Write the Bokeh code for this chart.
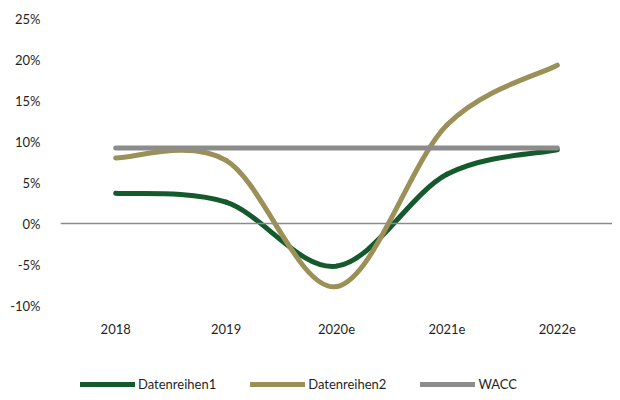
from bokeh.plotting import figure
from bokeh.layouts import column
from bokeh.models import (Range1d, FixedTicker, NumeralTickFormatter, Span,
                          Legend, LegendItem, ColumnDataSource)
from bokeh.embed import file_html
from bokeh.resources import INLINE

# ---- data ----
years = ["2018", "2019", "2020e", "2021e", "2022e"]
datenreihen1 = [0.037, 0.026, -0.052, 0.060, 0.090]
datenreihen2 = [0.080, 0.077, -0.077, 0.120, 0.193]
wacc = [0.092, 0.092, 0.092, 0.092, 0.092]
y_ticks = [-0.10, -0.05, 0.0, 0.05, 0.10, 0.15, 0.20, 0.25]

GREEN = "#155A2C"
KHAKI = "#9B9158"
GRAY = "#8C8C8C"
TEXT = "#1F1F1F"
FONT = "Lato"

xs = list(range(len(years)))


def smooth_segments(ys):
    """Bezier control points (Catmull-Rom style, like spreadsheet smoothing)."""
    n = len(ys)
    d = dict(x0=[], y0=[], x1=[], y1=[], cx0=[], cy0=[], cx1=[], cy1=[])
    for i in range(n - 1):
        a = i - 1 if i > 0 else i
        b = i + 2 if i + 2 < n else i + 1
        d["x0"].append(xs[i]); d["y0"].append(ys[i])
        d["x1"].append(xs[i + 1]); d["y1"].append(ys[i + 1])
        d["cx0"].append(xs[i] + (xs[i + 1] - xs[a]) / 6)
        d["cy0"].append(ys[i] + (ys[i + 1] - ys[a]) / 6)
        d["cx1"].append(xs[i + 1] - (xs[b] - xs[i]) / 6)
        d["cy1"].append(ys[i + 1] - (ys[b] - ys[i]) / 6)
    return ColumnDataSource(d)


W = 612
p = figure(width=W, height=340, output_backend="svg", toolbar_location=None,
           x_range=Range1d(-0.5, 4.5), y_range=Range1d(-0.10, 0.25),
           min_border_left=60, min_border_right=0, min_border_top=18,
           min_border_bottom=35)
p.outline_line_color = None
p.xgrid.visible = False
p.ygrid.visible = False
p.background_fill_color = "white"
p.border_fill_color = "white"

# zero line
p.add_layout(Span(location=0, dimension="width", line_color=GRAY, line_width=1.3))

lw = 5
for ys, col in [(datenreihen1, GREEN), (datenreihen2, KHAKI)]:
    p.bezier(x0="x0", y0="y0", x1="x1", y1="y1", cx0="cx0", cy0="cy0",
             cx1="cx1", cy1="cy1", source=smooth_segments(ys),
             line_color=col, line_width=lw, line_cap="round")
p.line(xs, wacc, line_color=GRAY, line_width=lw, line_cap="round")

# axes
p.xaxis.ticker = FixedTicker(ticks=xs)
p.xaxis.major_label_overrides = {i: y for i, y in enumerate(years)}
p.yaxis.ticker = FixedTicker(ticks=y_ticks)
p.yaxis.formatter = NumeralTickFormatter(format="0%")
for ax in (p.xaxis, p.yaxis):
    ax.axis_line_color = None
    ax.major_tick_line_color = None
    ax.minor_tick_line_color = None
    ax.major_label_text_font = FONT
    ax.major_label_text_font_size = "13px"
    ax.major_label_text_color = TEXT
p.xaxis.major_label_standoff = 12
p.yaxis.major_label_standoff = 14

# legend in its own strip below the chart
lg = figure(width=W, height=52, output_backend="svg", toolbar_location=None,
            x_range=Range1d(0, 1), y_range=Range1d(0, 1),
            min_border_left=0, min_border_right=0, min_border_top=0,
            min_border_bottom=0)
lg.axis.visible = False
lg.grid.visible = False
lg.outline_line_color = None
lg.background_fill_color = "white"
lg.border_fill_color = "white"
# legend-only renderers (kept outside the visible range of the strip)
off = [5, 6]
r1 = lg.line(off, off, line_color=GREEN, line_width=lw, line_cap="round")
r2 = lg.line(off, off, line_color=KHAKI, line_width=lw, line_cap="round")
r3 = lg.line(off, off, line_color=GRAY, line_width=lw, line_cap="round")
legend = Legend(items=[LegendItem(label="Datenreihen1", renderers=[r1]),
                       LegendItem(label="Datenreihen2", renderers=[r2]),
                       LegendItem(label="WACC", renderers=[r3])],
                orientation="horizontal", location=(20, 0),
                glyph_width=55, glyph_height=14, label_standoff=3, spacing=34,
                padding=0, margin=0, border_line_color=None,
                background_fill_alpha=0, label_text_font=FONT,
                label_text_font_size="13px", label_text_color=TEXT)
lg.add_layout(legend, "center")

page = column(p, lg, spacing=0)
open("out.html", "w").write(file_html(page, INLINE))
